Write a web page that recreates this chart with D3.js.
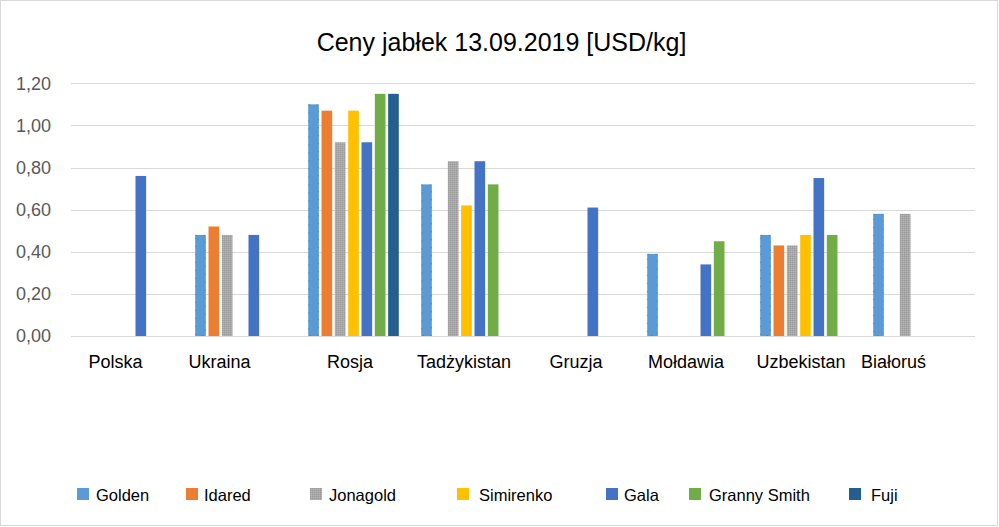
<!DOCTYPE html>
<html>
<head>
<meta charset="utf-8">
<script src="https://cdn.jsdelivr.net/npm/d3@7"></script>
<style>
  html, body { margin: 0; padding: 0; background: #fff; }
  svg { display: block; font-family: "Liberation Sans", Arial, sans-serif; }
</style>
</head>
<body>
<svg id="chart" width="999" height="527"></svg>
<script>
// ---- Data ----
const title = "Ceny jabłek 13.09.2019 [USD/kg]";
const categories = ["Polska", "Ukraina", "Rosja", "Tadżykistan", "Gruzja", "Mołdawia", "Uzbekistan", "Białoruś"];
const seriesNames = ["Golden", "Idared", "Jonagold", "Simirenko", "Gala", "Granny Smith", "Fuji"];
const golden    = [null, 0.48, 1.10, 0.72, null, 0.39, 0.48, 0.58];
const idared    = [null, 0.52, 1.07, null, null, null, 0.43, null];
const jonagold  = [null, 0.48, 0.92, 0.83, null, null, 0.43, 0.58];
const simirenko = [null, null, 1.07, 0.62, null, null, 0.48, null];
const gala      = [0.76, 0.48, 0.92, 0.83, 0.61, 0.34, 0.75, null];
const granny    = [null, null, 1.15, 0.72, null, 0.45, 0.48, null];
const fuji      = [null, null, 1.15, null, null, null, null, null];
const yTickValues = [0, 0.2, 0.4, 0.6, 0.8, 1.0, 1.2];

const seriesValues = [golden, idared, jonagold, simirenko, gala, granny, fuji];

// ---- Styles / layout ----
const colors = ["#5B9BD5", "#ED7D31", "url(#jonaPat)", "#FFC000", "#4472C4", "#70AD47", "#255E91"];
const legendX = [77, 186, 310, 457, 606, 689, 849];
const legendTextGap = [19, 18, 19, 22, 18, 20, 22];
const labelDx = [-12, -21, -3.5, -2.5, -3.5, -6.5, -4.5, -25];

const svg = d3.select("#chart");
const defs = svg.append("defs");
const pat = defs.append("pattern").attr("id", "jonaPat")
  .attr("patternUnits", "userSpaceOnUse").attr("width", 2).attr("height", 2);
pat.append("rect").attr("width", 2).attr("height", 2).attr("fill", "#A8A8A8");
pat.append("rect").attr("width", 1).attr("height", 1).attr("fill", "#9A9A9A");
pat.append("rect").attr("x", 1).attr("y", 1).attr("width", 1).attr("height", 1).attr("fill", "#B4B4B4");

// border
svg.append("rect").attr("x", 0.5).attr("y", 0.5).attr("width", 997).attr("height", 525)
  .attr("fill", "#fff").attr("stroke", "#D9D9D9");

const plotL = 71, plotR = 975, plotT = 83.3, plotB = 336;
const x0 = d3.scaleBand().domain(categories).range([plotL, plotR]).padding(0);
const x1 = d3.scaleBand().domain(seriesNames).range([0, x0.bandwidth()])
  .paddingInner(0.2).paddingOuter(0.84);
const y = d3.scaleLinear().domain([0, 1.2]).range([plotB, plotT]);

const loc = d3.formatLocale({decimal: ",", thousands: " ", grouping: [3], currency: ["", ""]});
const fmt = loc.format(".2f");

// gridlines
svg.append("g").selectAll("line").data(yTickValues).join("line")
  .attr("x1", plotL).attr("x2", plotR)
  .attr("y1", d => Math.round(y(d)) + 0.5).attr("y2", d => Math.round(y(d)) + 0.5)
  .attr("stroke", "#D9D9D9").attr("stroke-width", 1);

// y axis labels
const yAxis = d3.axisLeft(y).tickValues(yTickValues).tickFormat(fmt).tickSize(0).tickPadding(20);
const yg = svg.append("g").attr("transform", `translate(${plotL},0)`).call(yAxis);
yg.select(".domain").remove();
yg.selectAll("text").attr("font-size", 18).attr("fill", "#595959")
  .attr("font-family", "'Liberation Sans', Arial, sans-serif");

// bars
const barData = [];
seriesNames.forEach((s, si) => {
  categories.forEach((c, ci) => {
    const v = seriesValues[si][ci];
    if (v != null) barData.push({s, si, c, v});
  });
});
svg.append("g").selectAll("rect").data(barData).join("rect")
  .attr("x", d => x0(d.c) + x1(d.s))
  .attr("y", d => y(d.v))
  .attr("width", x1.bandwidth())
  .attr("height", d => plotB - y(d.v))
  .attr("fill", d => colors[d.si]);

// Golden dotted outline
svg.append("g").selectAll("rect").data(barData.filter(d => d.si === 0)).join("rect")
  .attr("x", d => x0(d.c) + x1(d.s) + 0.5)
  .attr("y", d => y(d.v) + 0.5)
  .attr("width", x1.bandwidth() - 1)
  .attr("height", d => plotB - y(d.v) - 1)
  .attr("fill", "none").attr("stroke", "#41719C").attr("stroke-width", 1)
  .attr("stroke-dasharray", "1,7").attr("opacity", 0.7);

// category labels
svg.append("g").selectAll("text").data(categories).join("text")
  .attr("x", (d, i) => x0(d) + x0.bandwidth() / 2 + labelDx[i])
  .attr("y", 368)
  .attr("text-anchor", "middle")
  .attr("font-size", 18).attr("fill", "#000")
  .text(d => d);

// title
svg.append("text").attr("x", 501.5).attr("y", 51).attr("text-anchor", "middle")
  .attr("font-size", 25).attr("fill", "#000").text(title);

// legend
const lg = svg.append("g").selectAll("g").data(seriesNames).join("g")
  .attr("transform", (d, i) => `translate(${legendX[i]},488)`);
lg.append("rect").attr("width", 12).attr("height", 12).attr("fill", (d, i) => colors[i]);
lg.append("text").attr("x", (d, i) => legendTextGap[i]).attr("y", 13)
  .attr("font-size", 16.5).attr("fill", "#000").text(d => d);
</script>
</body>
</html>
